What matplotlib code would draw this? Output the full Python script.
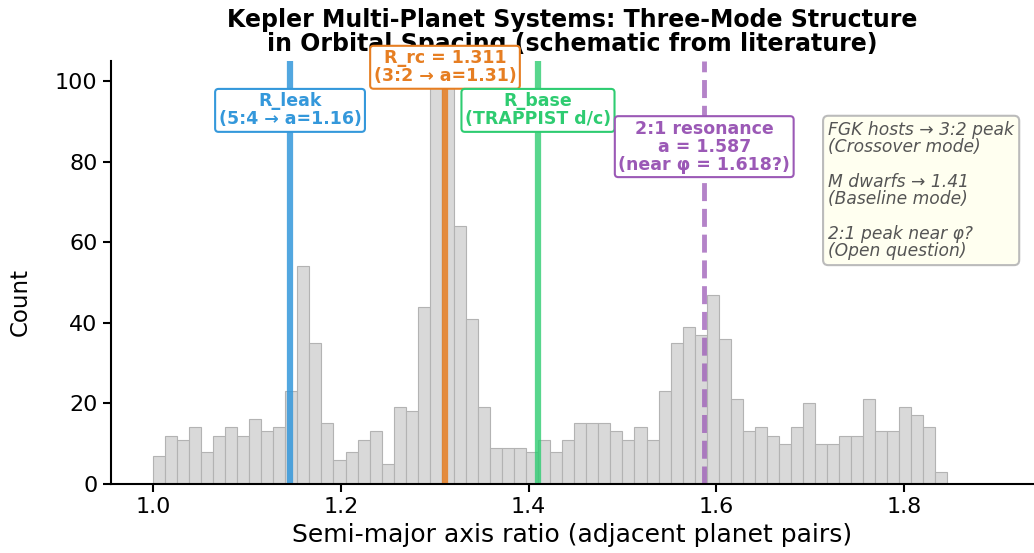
import numpy as np
import matplotlib
matplotlib.use("Agg")
import matplotlib.pyplot as plt

# histogram counts per bin (66 bins between 1.0 and 1.846)
bin_lo = 1.0
bin_hi = 1.846
counts = [
    7, 12, 11, 14, 8, 12, 14, 12, 16, 13, 14, 23, 54, 35, 15, 6,
    8, 11, 13, 5, 19, 18, 44, 118, 110, 64, 41, 19, 9, 9, 9, 8,
    11, 8, 11, 15, 15, 15, 13, 11, 14, 11, 23, 35, 39, 37, 47, 36,
    21, 13, 14, 12, 10, 14, 20, 10, 10, 12, 12, 21, 13, 13, 19, 17,
    14, 3,
]

# reference ratios
r_leak = 1.146
r_rc = 1.311
r_base = 1.41
r_21 = 1.587

edges = np.linspace(bin_lo, bin_hi, len(counts) + 1)
centers = 0.5 * (edges[:-1] + edges[1:])

fig = plt.figure(figsize=(10.34, 5.53), dpi=100)
ax = fig.add_axes([0.107, 0.125, 0.892, 0.765])

ax.hist(centers, bins=edges, weights=counts, color="#d9d9d9",
        edgecolor="#b3b3b3", linewidth=0.8, zorder=1)

ax.axvline(r_leak, color="#3498db", lw=4.5, alpha=0.85, zorder=2)
ax.axvline(r_rc, color="#e67e22", lw=4.5, alpha=0.85, zorder=2)
ax.axvline(r_base, color="#2ecc71", lw=4.5, alpha=0.8, zorder=2)
ax.axvline(r_21, color="#9b59b6", lw=3.5, ls="--", alpha=0.75, zorder=2)


def tag(x, y, text, color):
    ax.text(x, y, text, ha="center", va="center", fontsize=12.5,
            fontweight="bold", color=color, zorder=5, linespacing=1.0,
            bbox=dict(boxstyle="round,pad=0.2", facecolor="white",
                      edgecolor=color, linewidth=1.5))


tag(r_leak, 92.7, "R_leak\n(5:4 → a=1.16)", "#3498db")
tag(r_rc, 103.4, f"R_rc = {r_rc:.3f}\n(3:2 → a=1.31)", "#e67e22")
tag(r_base, 92.7, "R_base\n(TRAPPIST d/c)", "#2ecc71")
tag(r_21, 83.7, f"2:1 resonance\na = {r_21:.3f}\n(near φ = 1.618?)", "#9b59b6")

# summary box on the right
ax.text(0.778, 0.858,
        "FGK hosts → 3:2 peak\n(Crossover mode)\n\n"
        "M dwarfs → 1.41\n(Baseline mode)\n\n"
        "2:1 peak near φ?\n(Open question)",
        transform=ax.transAxes, ha="left", va="top", fontsize=12.3,
        style="italic", color="#555555", linespacing=0.95, zorder=5,
        bbox=dict(boxstyle="round,pad=0.3", facecolor="#fffff0",
                  edgecolor="#bbbbbb", linewidth=1.5))

ax.set_xlim(0.955, 1.937)
ax.set_ylim(0, 105)
ax.set_xticks([1.0, 1.2, 1.4, 1.6, 1.8])
ax.set_yticks([0, 20, 40, 60, 80, 100])
ax.tick_params(labelsize=16, width=1.5, length=6)
for s in ("top", "right"):
    ax.spines[s].set_visible(False)
for s in ("left", "bottom"):
    ax.spines[s].set_linewidth(1.5)

ax.set_xlabel("Semi-major axis ratio (adjacent planet pairs)", fontsize=18)
ax.set_ylabel("Count", fontsize=16.5)
ax.yaxis.set_label_coords(-0.086, 0.43)
ax.set_title("Kepler Multi-Planet Systems: Three-Mode Structure\n"
             "in Orbital Spacing (schematic from literature)",
             fontsize=17, fontweight="bold", linespacing=1.0, pad=7)

fig.savefig("out.png", dpi=100)
